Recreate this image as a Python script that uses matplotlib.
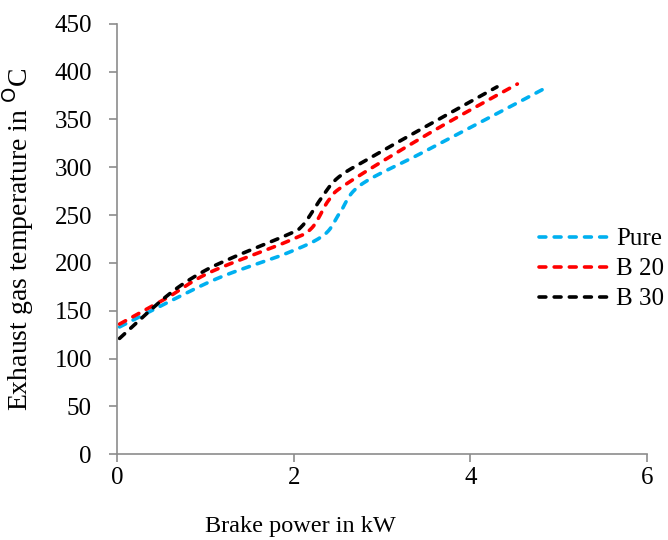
import numpy as np
import matplotlib
matplotlib.use("Agg")
import matplotlib.pyplot as plt

# Data
pure_x = [0.03, 0.56, 1.17, 1.92, 2.34, 2.52, 2.75, 3.43, 4.30, 4.81]
pure_y = [133, 158, 185, 210, 229, 252, 281, 314, 356, 381]
b20_x = [0.03, 0.56, 1.05, 1.92, 2.20, 2.40, 2.62, 3.58, 4.53]
b20_y = [136, 163, 190, 222, 236, 266, 284, 338, 387]
b30_x = [0.03, 0.56, 0.94, 1.32, 1.92, 2.10, 2.30, 2.50, 2.87, 3.58, 4.30]
b30_y = [121, 165, 189, 206, 229, 239, 266, 289, 310, 347, 384]
series_names = ["Pure", "B 20", "B 30"]
x_ticks = [0, 2, 4, 6]
y_ticks = list(range(0, 451, 50))


def smooth(xs, ys, n=30):
    # Excel-like smoothing: cubic Bezier segments with Catmull-Rom tangents
    P = np.column_stack([xs, ys]).astype(float)
    out = [P[0]]
    m = len(P)
    for i in range(m - 1):
        p0 = P[i - 1] if i > 0 else P[i]
        p1 = P[i]
        p2 = P[i + 1]
        p3 = P[i + 2] if i + 2 < m else P[i + 1]
        c1 = p1 + (p2 - p0) / 6.0
        c2 = p2 - (p3 - p1) / 6.0
        t = np.linspace(0, 1, n)[1:, None]
        seg = ((1 - t) ** 3) * p1 + 3 * ((1 - t) ** 2) * t * c1 + 3 * (1 - t) * t ** 2 * c2 + t ** 3 * p2
        out.extend(seg)
    out = np.array(out)
    return out[:, 0], out[:, 1]


plt.rcParams['font.family'] = ['Liberation Serif', 'DejaVu Serif']
fig = plt.figure(figsize=(6.68, 5.4), dpi=100)
ax = fig.add_axes([0.175, 0.159, 0.794, 0.797])

colors = ["#00B0F0", "#FF0000", "#000000"]
data = [(pure_x, pure_y), (b20_x, b20_y), (b30_x, b30_y)]
for (xs, ys), c, name in zip(data, colors, series_names):
    sx, sy = smooth(xs, ys)
    ax.plot(sx, sy, color=c, lw=2.6, dashes=(1.9, 2.3), label=name,
            dash_capstyle='round', solid_capstyle='round')

ax.set_xlim(0, 6)
ax.set_ylim(0, 450)
ax.set_xticks(x_ticks)
ax.set_yticks(y_ticks)
for s in ['top', 'right']:
    ax.spines[s].set_visible(False)
for s in ['left', 'bottom']:
    ax.spines[s].set_color('#8c8c8c')
    ax.spines[s].set_linewidth(1.2)
ax.tick_params(axis='both', colors='#8c8c8c', labelcolor='black', labelsize=18,
               length=6, width=1.2, direction='out')
ax.tick_params(axis='y', pad=12)
ax.tick_params(axis='x', pad=3)
ax.set_xlabel("Brake power in kW", fontsize=17.5)
ax.xaxis.set_label_coords(0.345, -0.143)
ax.set_ylabel("Exhaust gas temperature in $^{\\mathrm{O}}$C", fontsize=20)
ax.yaxis.set_label_coords(-0.152, 0.5)

leg = ax.legend(loc='center left', bbox_to_anchor=(0.795, 0.43), frameon=False,
                fontsize=18, handlelength=2.8, handletextpad=0.3, labelspacing=0.3,
                borderaxespad=0, borderpad=0)

fig.savefig("out.png", dpi=100)
